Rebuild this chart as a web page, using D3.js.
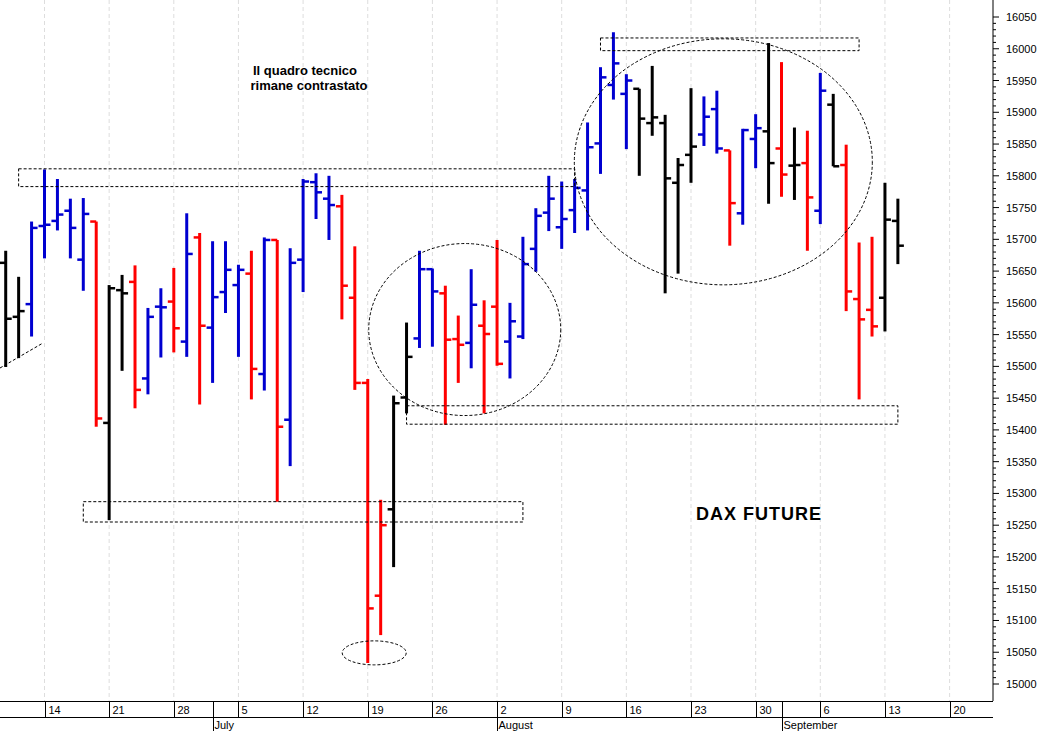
<!DOCTYPE html>
<html><head><meta charset="utf-8">
<script src="https://cdn.jsdelivr.net/npm/d3@7"></script>
<style>body{margin:0;background:#fff}svg{display:block}</style></head>
<body><svg id="c" width="1042" height="731"></svg>
<script>
// trading-day index 0 = Mon 14 Jun 2021
const firstIndex = -3;
const opens  = [15663,15578,15598,15721,15729,15745,15668,15728,15411,15620,15633,15481,15594,15602,15539,15703,15561,15617,15628,15646,15488,15699,15416,15668,15790,15764,15752,15608,15474,15139,15275,15451,15544,15653,15615,15543,15537,15564,15594,15539,15547,15685,15742,15719,15746,15777,15851,15943,15929,15937,15883,15883,15789,15833,15865,15905,15840,15741,15858,15870,15843,15816,15820,15745,15912,15817,15606,15589,15608,15729];
const highs  = [15682,15641,15728,15810,15795,15764,15765,15728,15628,15644,15659,15592,15623,15655,15741,15710,15697,15697,15660,15682,15703,15699,15686,15795,15804,15800,15770,15689,15480,15290,15454,15569,15682,15654,15627,15580,15653,15604,15699,15600,15704,15749,15800,15791,15795,15884,15971,16026,15960,15937,15973,15896,15828,15938,15925,15934,15840,15874,15897,16009,15979,15876,15871,15962,15929,15849,15695,15704,15789,15764];
const lows   = [15499,15513,15547,15670,15714,15670,15619,15405,15258,15493,15434,15456,15514,15522,15515,15440,15474,15584,15515,15448,15462,15287,15343,15617,15732,15699,15574,15463,15033,15077,15184,15426,15529,15531,15408,15474,15497,15426,15501,15481,15543,15649,15713,15685,15710,15714,15803,15920,15842,15800,15863,15615,15646,15789,15847,15835,15690,15723,15812,15756,15767,15762,15682,15724,15815,15587,15448,15547,15555,15661];
const closes = [15575,15587,15718,15723,15739,15718,15740,15418,15623,15615,15463,15578,15593,15560,15677,15564,15609,15652,15652,15496,15699,15405,15663,15791,15774,15754,15627,15474,15119,15250,15442,15515,15653,15618,15542,15534,15597,15551,15504,15571,15661,15737,15764,15732,15781,15845,15955,15977,15950,15890,15892,15796,15817,15846,15893,15843,15757,15872,15875,15820,15802,15817,15766,15934,15815,15618,15574,15563,15731,15690];
const colors = "KKBBBBBRKKRBBRBRBBBRBRBBBBRRRRKKBBRRBRRBBBBBBBBBBKKKKKBBRBBKRKRBKRRRKK".split("");
const weekLabels = ["14","21","28","5","12","19","26","2","9","16","23","30","6","13","20"];
const months = [{name:"July",idx:13},{name:"August",idx:35},{name:"September",idx:57}];
const priceTicks = d3.range(15000,16051,50);

const colMap = {K:"#000",B:"#0000d0",R:"#ff0000"};
const svg = d3.select("#c");
const x = d3.scaleLinear().domain([0,1]).range([44.5,57.43]);
const y = d3.scaleLinear().domain([15000,16050]).range([684,17]);
const F = "Arial, 'Liberation Sans', sans-serif";

weekLabels.forEach((l,i)=>{
  svg.append("line").attr("x1",x(i*5)).attr("x2",x(i*5)).attr("y1",0).attr("y2",701)
    .attr("stroke","#ddd").attr("stroke-dasharray","4,3");
});

opens.forEach((o,i)=>{
  const xi = x(firstIndex+i), c = colMap[colors[i]];
  const g = svg.append("g").attr("stroke",c).attr("stroke-width",3);
  g.append("line").attr("x1",xi).attr("x2",xi).attr("y1",y(highs[i])).attr("y2",y(lows[i]));
  g.append("line").attr("x1",xi-6).attr("x2",xi).attr("y1",y(o)).attr("y2",y(o)).attr("stroke-width",2.5);
  g.append("line").attr("x1",xi).attr("x2",xi+6).attr("y1",y(closes[i])).attr("y2",y(closes[i])).attr("stroke-width",2.5);
});

const dash = g=>g.attr("fill","none").attr("stroke","#000").attr("stroke-width",1).attr("stroke-dasharray","3,2");
[[x(-2),x(41),15811,15783],[x(3),x(37),15287,15255],[x(28),x(66),15438,15409],[x(43),x(63),16017,15997]].forEach(r=>{
  svg.append("rect").attr("x",r[0]).attr("width",r[1]-r[0]).attr("y",y(r[2])).attr("height",y(r[3])-y(r[2])).call(dash);
});
[[x(25.5),15049,32,12],[x(32.5),15558,96,86],[x(52.5),15822,149,123]].forEach(e=>{
  svg.append("ellipse").attr("cx",e[0]).attr("cy",y(e[1])).attr("rx",e[2]).attr("ry",e[3]).call(dash);
});
svg.append("line").attr("x1",0).attr("y1",368).attr("x2",43).attr("y2",343).call(dash);

svg.append("text").attr("x",305).attr("y",75).attr("text-anchor","middle").attr("font-family",F).attr("font-size",13).attr("font-weight","bold").text("Il quadro tecnico");
svg.append("text").attr("x",309).attr("y",90).attr("text-anchor","middle").attr("font-family",F).attr("font-size",13).attr("font-weight","bold").text("rimane contrastato");
svg.append("text").attr("x",759).attr("y",520).attr("text-anchor","middle").attr("font-family",F).attr("font-size",18).attr("font-weight","bold").attr("letter-spacing",1).text("DAX FUTURE");

svg.append("line").attr("x1",993).attr("x2",993).attr("y1",0).attr("y2",701).attr("stroke","#000");
d3.range(15000,16051,10).forEach(v=>{
  const major = v%50===0;
  svg.append("line").attr("x1",993).attr("x2",major?999:996).attr("y1",y(v)).attr("y2",y(v)).attr("stroke","#000");
});
priceTicks.forEach(v=>{
  svg.append("text").attr("x",1006).attr("y",y(v)+4).attr("font-family",F).attr("font-size",11).text(v);
});

svg.append("line").attr("x1",0).attr("x2",993).attr("y1",701.5).attr("y2",701.5).attr("stroke","#000");
svg.append("line").attr("x1",0).attr("x2",993).attr("y1",717.5).attr("y2",717.5).attr("stroke","#000");
weekLabels.forEach((l,i)=>{
  const xi = Math.round(x(i*5))+0.5;
  svg.append("line").attr("x1",xi).attr("x2",xi).attr("y1",701).attr("y2",717).attr("stroke","#000");
  svg.append("text").attr("x",xi+3).attr("y",714).attr("font-family",F).attr("font-size",11).text(l);
});
months.forEach(m=>{
  const xi = Math.round(x(m.idx))+0.5;
  svg.append("line").attr("x1",xi).attr("x2",xi).attr("y1",701).attr("y2",731).attr("stroke","#000");
  svg.append("text").attr("x",xi+1).attr("y",729).attr("font-family",F).attr("font-size",11).text(m.name);
});
</script></body></html>
